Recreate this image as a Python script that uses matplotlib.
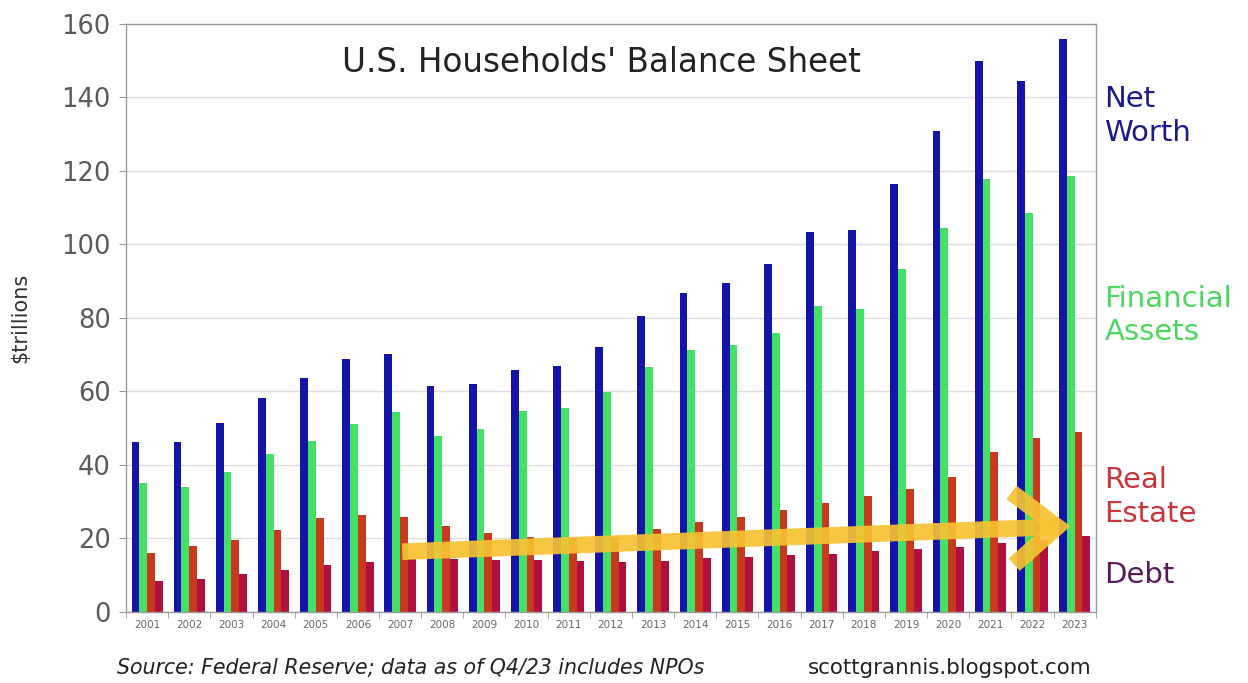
import numpy as np
import matplotlib
matplotlib.use('Agg')
import matplotlib.pyplot as plt

# Values, $ trillions (end of year)
years = ['2001', '2002', '2003', '2004', '2005', '2006', '2007', '2008',
         '2009', '2010', '2011', '2012', '2013', '2014', '2015', '2016',
         '2017', '2018', '2019', '2020', '2021', '2022', '2023']
net_worth = [46.2, 46.2, 51.4, 58.2, 63.6, 68.7, 70.3, 61.5, 61.9, 65.8,
             66.8, 72.0, 80.5, 86.7, 89.5, 94.8, 103.5, 104.0, 116.5,
             130.8, 149.8, 144.5, 155.8]
financial = [35.0, 34.0, 38.0, 43.0, 46.4, 51.1, 54.4, 48.0, 49.9, 54.6,
             55.6, 59.8, 66.6, 71.2, 72.6, 75.8, 83.2, 82.4, 93.2, 104.6,
             117.8, 108.6, 118.6]
real_estate = [16.1, 17.9, 19.5, 22.3, 25.7, 26.5, 25.9, 23.3, 21.5, 20.3,
               20.2, 20.4, 22.6, 24.5, 25.9, 27.8, 29.7, 31.6, 33.5, 36.8,
               43.4, 47.3, 49.0]
debt = [8.4, 9.0, 10.2, 11.4, 12.8, 13.7, 14.3, 14.4, 14.2, 14.1, 13.9,
        13.6, 14.0, 14.6, 15.0, 15.4, 15.8, 16.6, 17.2, 17.6, 18.9, 19.6,
        20.6]
yticks = [0, 20, 40, 60, 80, 100, 120, 140, 160]

# hand-drawn trend arrow (group index, value)
arrow_start = (6.05, 16.4)
arrow_end = (21.9, 23.3)

C_NW = '#1414a8'
C_FA = '#45e066'
C_RE = '#c83a1e'
C_DEBT = '#b0103e'
C_ARROW = '#f7c233'

fig = plt.figure(figsize=(12.48, 6.83), dpi=100)
ax = fig.add_axes([0.101, 0.104, 0.777, 0.861])

x = np.arange(len(years))
w = 0.185
ax.bar(x - 1.5 * w, net_worth, w, color=C_NW, zorder=2)
ax.bar(x - 0.5 * w, financial, w, color=C_FA, zorder=2)
ax.bar(x + 0.5 * w, real_estate, w, color=C_RE, zorder=2)
ax.bar(x + 1.5 * w, debt, w, color=C_DEBT, zorder=2)

ax.set_xlim(-0.5, len(years) - 0.5)
ax.set_ylim(0, 160)
ax.set_yticks(yticks)
ax.set_yticklabels([str(v) for v in yticks], fontsize=18.5, color='#5a5a5a')
ax.set_xticks(x)
ax.set_xticklabels(years, fontsize=7.5, color='#666666')
ax.tick_params(axis='x', length=0, pad=6)
ax.set_xticks(np.arange(len(years) + 1) - 0.5, minor=True)
ax.tick_params(axis='x', which='minor', length=4, color='#999999', direction='out')
ax.tick_params(axis='y', length=5, color='#999999', pad=6)
ax.grid(axis='y', color='#dddddd', linewidth=1, zorder=0)
for s in ax.spines.values():
    s.set_color('#999999')
    s.set_linewidth(1)

ax.set_ylabel('$trillions', fontsize=15, color='#333333', labelpad=22)

ax.text(0.49, 0.935, "U.S. Households' Balance Sheet", transform=ax.transAxes,
        ha='center', va='center', fontsize=23.5, color='#222222')

# yellow trend arrow
ax.annotate('', xy=arrow_end, xytext=arrow_start,
            arrowprops=dict(arrowstyle='->, head_length=3.2, head_width=2.6',
                            color=C_ARROW, lw=12, alpha=0.92,
                            shrinkA=0, shrinkB=0, capstyle='butt',
                            joinstyle='miter'),
            zorder=4)

# right-side series labels
lab = dict(transform=fig.transFigure, fontsize=21, ha='left', va='center',
           linespacing=1.25)
fig.text(0.885, 0.83, 'Net\nWorth', color='#1a1a8c', **lab)
fig.text(0.885, 0.538, 'Financial\nAssets', color='#4cd65c', **lab)
fig.text(0.885, 0.272, 'Real\nEstate', color='#c8363a', **lab)
fig.text(0.885, 0.158, 'Debt', color='#5a1a5a', **lab)

fig.text(0.094, 0.022, 'Source: Federal Reserve; data as of Q4/23 includes NPOs',
         fontsize=14.8, style='italic', color='#222222', ha='left', va='center')
fig.text(0.875, 0.022, 'scottgrannis.blogspot.com', fontsize=15.4,
         color='#222222', ha='right', va='center')

fig.savefig('out.png', dpi=100)
